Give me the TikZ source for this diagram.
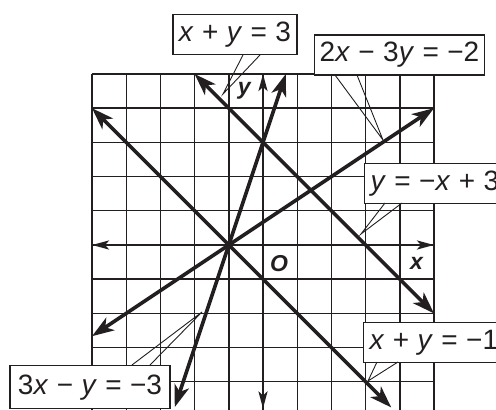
\documentclass[tikz,border=0pt]{standalone}
\usepackage{fontspec}
\setmainfont{Liberation Sans}
\usetikzlibrary{arrows.meta}
\definecolor{ink}{HTML}{231F20}
\newcommand\myg{\hspace{0.3em}}
\newcommand\vx{\textit{x}}
\newcommand\vy{\textit{y}}
\newcommand\mneg{−}
\tikzset{
  gridline/.style={line width=1.4pt, draw=ink},
  eqline/.style={line width=3.6pt, draw=ink, {Stealth[length=22pt,width=15pt,inset=6pt]}-{Stealth[length=22pt,width=15pt,inset=6pt]}},
  axisline/.style={line width=2.4pt, draw=ink, {Stealth[length=17pt,width=9pt,inset=4pt]}-{Stealth[length=17pt,width=9pt,inset=4pt]}},
  eqbox/.style={draw=ink, line width=1.3pt, fill=white, minimum height=40pt, inner xsep=5pt, font=\fontsize{28}{32}\selectfont, text=ink},
  pointer/.style={draw=ink, line width=0.9pt},
  axlabel/.style={font=\fontsize{23}{26}\selectfont\bfseries\itshape, text=ink},
}
\begin{document}
\begin{tikzpicture}[x=1pt,y=1pt]
\useasboundingbox (0,0) rectangle (496,410);
\clip (0,0) rectangle (496,410);
\fill[white] (0,0) rectangle (496,410);
\begin{scope}[shift={(263pt,165pt)}, x=34.2pt, y=34.2pt]
  % grid
  \foreach \i in {-5,...,5} \draw[gridline] (\i,-5) -- (\i,5);
  \foreach \j in {-4,...,5} \draw[gridline] (-5,\j) -- (5,\j);
  % axes
  \coordinate (xl) at (-5,0); \coordinate (xr) at (5,0);
  \coordinate (yt) at (0,5); \coordinate (yb) at (0,-4.78);
  \draw[axisline] (xl) -- (xr);
  \draw[axisline] (yt) -- (yb);
  % lines
  \coordinate (a1) at (-5,4);  \coordinate (a2) at (3.75,-4.75);
  \coordinate (b1) at (-2,5);  \coordinate (b2) at (5,-2);
  \coordinate (c1) at (-5,-2.667); \coordinate (c2) at (5,4);
  \coordinate (d1) at (0.667,5); \coordinate (d2) at (-2.58,-4.74);
  \draw[eqline] (a1) -- (a2);
  \draw[eqline] (b1) -- (b2);
  \draw[eqline] (c1) -- (c2);
  \draw[eqline] (d1) -- (d2);
  % axis labels
  \node[axlabel] (ylab) at (-0.55,4.5) {y};
  \node[axlabel] (xlab) at (4.49,-0.53) {x};
  \node[axlabel] (olab) at (0.47,-0.53) {O};
\end{scope}
% callout boxes
\node[eqbox, minimum width=124pt] (boxA) at (235,375.5) {\vx\myg+\myg\vy\myg=\myg3};
\node[eqbox, minimum width=169pt] (boxB) at (399.5,355) {2\vx\myg\mneg\myg3\vy\myg=\myg\mneg2};
\node[eqbox, anchor=north west, inner xsep=6pt] (boxC) at (364,247) {\vy\myg=\myg\mneg\vx\myg+\myg3};
\node[eqbox, anchor=north west, inner xsep=6pt] (boxD) at (363,88) {\vx\myg+\myg\vy\myg=\myg\mneg1};
\node[eqbox, minimum width=160pt, minimum height=43pt, anchor=north] (boxE) at (90,45) {3\vx\myg\mneg\myg\vy\myg=\myg\mneg3};
% pointers
\coordinate (pA1) at (243,355); \coordinate (pA2) at (260,355); \coordinate (tA) at (223,316);
\coordinate (pB1) at (335,335); \coordinate (pB2) at (357,335); \coordinate (tB) at (383,270);
\coordinate (pC1) at (385,207); \coordinate (pC2) at (402,207); \coordinate (tC) at (361,176);
\coordinate (pD1) at (377,48);  \coordinate (pD2) at (398,48);  \coordinate (tD) at (368,29);
\coordinate (pE1) at (132,45);  \coordinate (pE2) at (150,45);  \coordinate (tE) at (202,98);
\draw[pointer] (pA1) -- (tA) -- (pA2);
\draw[pointer] (pB1) -- (tB) -- (pB2);
\draw[pointer] (pC1) -- (tC) -- (pC2);
\draw[pointer] (pD1) -- (tD) -- (pD2);
\draw[pointer] (pE1) -- (tE) -- (pE2);
\end{tikzpicture}
\end{document}
